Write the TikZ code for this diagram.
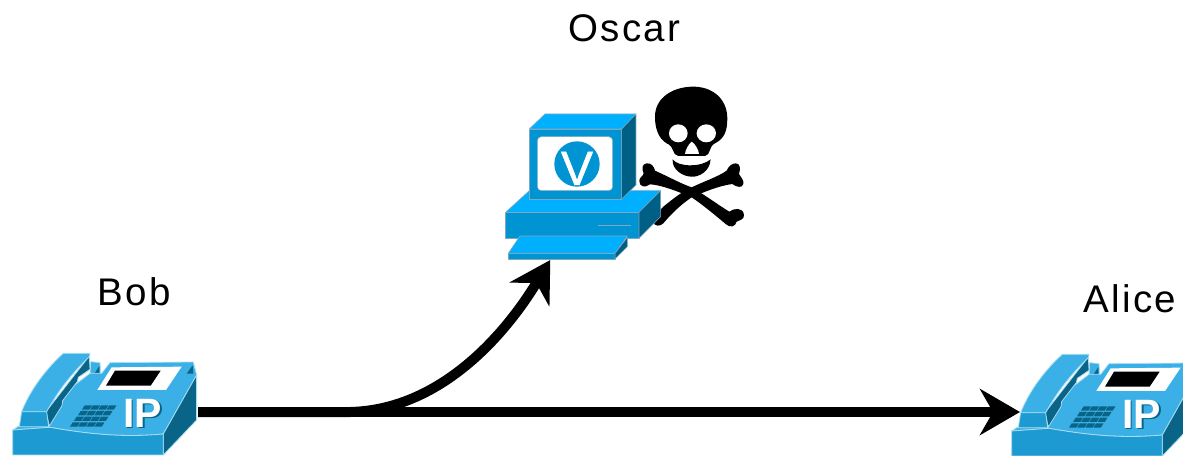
\documentclass[tikz,border=0pt]{standalone}
\usepackage{fontspec}
\setmainfont{Liberation Sans}
\newfontfamily\lab[LetterSpace=6]{Liberation Sans}
\newfontfamily\vfont[FakeBold=1.2]{Liberation Sans}
\usetikzlibrary{arrows.meta}
\definecolor{phlight}{HTML}{3BB0E6}
\definecolor{phfront}{HTML}{1E9AD2}
\definecolor{phdark}{HTML}{0A6488}
\definecolor{phedge}{HTML}{A8DCF0}
\definecolor{pclight}{HTML}{00B0FF}
\definecolor{pcfront}{HTML}{0094D2}
\definecolor{pcdark}{HTML}{005F85}
\definecolor{pcedge}{HTML}{7FA8C0}
\tikzset{
  lbl/.style={font=\lab\fontsize{38.5}{42}\selectfont,inner sep=0pt},
  anchorbox/.style={inner sep=0pt,outer sep=0pt},
  conn/.style={line width=10pt,draw=black,-{Stealth[length=40pt,width=46pt,inset=13pt]}},
  ph/.style={draw=phedge,line width=.8pt,line join=round},
  pc/.style={draw=pcedge,line width=.6pt,line join=round},
}
\newcommand{\phoneicon}[2]{%
\begin{scope}[shift={(#1,#2)},x=0.3333pt,y=-0.3333pt]
  \fill[ph,fill=phlight] (272,65) -- (300,68) -- (302,105) -- (270,105) -- cycle;
  \fill[phdark] (284,100) -- (298,78) -- (298,100) -- cycle;
  \fill[ph,fill=phlight] (38,270) -- (100,230) -- (270,100) -- (305,100) -- (330,68) -- (580,66) -- (590,105) -- (490,282) .. controls (380,292) and (280,285) .. (150,262) -- cycle;
  \fill[phdark] (560,101) -- (578,76) -- (580,101) -- cycle;
  \fill[ph,fill=phdark] (590,105) -- (490,282) -- (490,345) -- (590,240) -- cycle;
  \fill[ph,fill=phfront] (38,270) -- (150,262) .. controls (280,285) and (380,292) .. (490,282) -- (490,345) -- (38,345) -- cycle;
  \fill[white] (335,82) -- (545,80) -- (498,150) -- (292,150) -- cycle;
  \fill[black] (345,92) -- (482,92) -- (452,137) -- (318,137) -- cycle;
  \fill[ph,fill=phdark] (268,48) -- (270,88) -- (235,112) -- (232,125) -- (188,182) -- (186,197) -- (148,258) -- (138,215) -- cycle;
  \fill[ph,fill=phlight] (190,40) -- (270,40) -- (268,50) .. controls (210,105) and (170,160) .. (140,215) -- (65,215) .. controls (90,150) and (140,85) .. (190,40) -- cycle;
  \fill[ph,fill=phfront] (65,215) -- (140,215) -- (146,260) -- (58,260) -- cycle;
  \foreach \r in {0,1,2,3}{\foreach \c in {0,1,2,3}{
    \fill[phdark] ({254+\c*24.5-\r*12},{196+\r*17}) -- ++(22,0) -- ++(-8,13) -- ++(-22,0) -- cycle;
  }}
  \node[anchorbox,font=\fontsize{41}{41}\selectfont,text=phdark] at (432,222) {\textbf{IP}};
  \node[anchorbox,font=\fontsize{41}{41}\selectfont,text=white] at (428,219) {\textbf{IP}};
\end{scope}}
\begin{document}
\begin{tikzpicture}[x=1pt,y=-1pt]
\useasboundingbox (0,0) rectangle (1183,455);
\begin{scope}[shift={(495,80)},x=0.3333pt,y=-0.3333pt]
  \fill[black] (455,250) .. controls (470,248) and (478,262) .. (480,272)
    .. controls (520,290) and (560,312) .. (590,322)
    .. controls (630,345) and (670,375) .. (703,395)
    .. controls (715,385) and (745,380) .. (747,405)
    .. controls (748,418) and (735,420) .. (725,425)
    .. controls (722,440) and (705,445) .. (692,432)
    .. controls (660,405) and (620,372) .. (590,352)
    .. controls (550,335) and (500,315) .. (465,313)
    .. controls (450,325) and (432,320) .. (433,302)
    .. controls (433,292) and (445,288) .. (446,280)
    .. controls (440,268) and (440,252) .. (455,250) -- cycle;
  \fill[black] (722,250) .. controls (735,250) and (738,265) .. (732,282)
    .. controls (738,292) and (748,302) .. (745,312)
    .. controls (742,325) and (725,322) .. (712,312)
    .. controls (670,318) and (630,335) .. (590,352)
    .. controls (560,372) and (530,400) .. (505,430)
    .. controls (495,440) and (478,440) .. (474,425)
    .. controls (478,410) and (490,395) .. (505,380)
    .. controls (530,360) and (560,335) .. (590,322)
    .. controls (625,305) and (670,290) .. (695,272)
    .. controls (700,260) and (710,250) .. (722,250) -- cycle;
  \fill[black] (590,20) .. controls (650,18) and (697,55) .. (697,115)
    .. controls (697,150) and (690,175) .. (660,190)
    .. controls (640,200) and (648,225) .. (630,228)
    -- (550,228) .. controls (530,225) and (540,200) .. (515,190)
    .. controls (490,175) and (480,145) .. (480,110)
    .. controls (480,55) and (530,22) .. (590,20) -- cycle;
  \fill[black] (533,238) .. controls (550,262) and (620,262) .. (647,238)
    .. controls (645,275) and (610,292) .. (590,290)
    .. controls (565,290) and (530,270) .. (533,238) -- cycle;
  \fill[white] (550,160) ellipse (28 and 27) (634,160) ellipse (29 and 27);
  \fill[white] (590,185) .. controls (600,190) and (612,212) .. (612,222) -- (570,222) .. controls (570,212) and (582,190) .. (590,185) -- cycle;
\end{scope}
\begin{scope}[shift={(495,80)},x=0.3333pt,y=-0.3333pt]
  \fill[pc,fill=pclight] (32,397) -- (103,332) -- (497,332) -- (432,397) -- cycle;
  \fill[pc,fill=pcfront] (32,397) rectangle (432,475);
  \fill[pc,fill=pcdark] (432,397) -- (497,332) -- (497,410) -- (432,475) -- cycle;
  \draw[pcedge,line width=1pt] (310,437) -- (408,437);
  \fill[pc,fill=pclight] (103,147) -- (150,102) -- (423,102) -- (380,147) -- cycle;
  \fill[pc,fill=pcfront] (103,147) rectangle (380,357);
  \fill[pc,fill=pcdark] (380,147) -- (423,102) -- (423,315) -- (380,357) -- cycle;
  \fill[pc,fill=white,rounded corners=4pt] (127,170) rectangle (353,332);
  \fill[pcfront] (246,252) circle (68);
  \node[anchorbox,font=\vfont\fontsize{48}{48}\selectfont,text=white] at (246,265) {V};
  \fill[pc,fill=pclight] (40,520) -- (75,468) -- (397,468) -- (360,520) -- cycle;
  \fill[pc,fill=pcfront] (40,520) rectangle (360,537);
  \fill[pc,fill=pcdark] (360,520) -- (397,472) -- (397,500) -- (360,537) -- cycle;
\end{scope}
\phoneicon{0}{340}
\phoneicon{999}{341}
\node[anchorbox,minimum width=185pt,minimum height=86pt] (bob) at (105.5,412) {};
\node[anchorbox,minimum width=163pt,minimum height=86pt] (alice) at (1101.5,412) {};
\node[anchorbox,minimum width=157pt,minimum height=147pt] (oscar) at (583,186.5) {};
\coordinate (bend) at (350,412);
\draw[conn] (bob.east) -- (alice.west);
\draw[conn] (bob.east) -- (bend) .. controls (440,410) and (505,335) .. (oscar.246);
\node[lbl] (oscarlabel) at (624.5,28) {Oscar};
\node[lbl] (boblabel) at (134,292) {Bob};
\node[lbl] (alicelabel) at (1130,299) {Alice};
\end{tikzpicture}
\end{document}
